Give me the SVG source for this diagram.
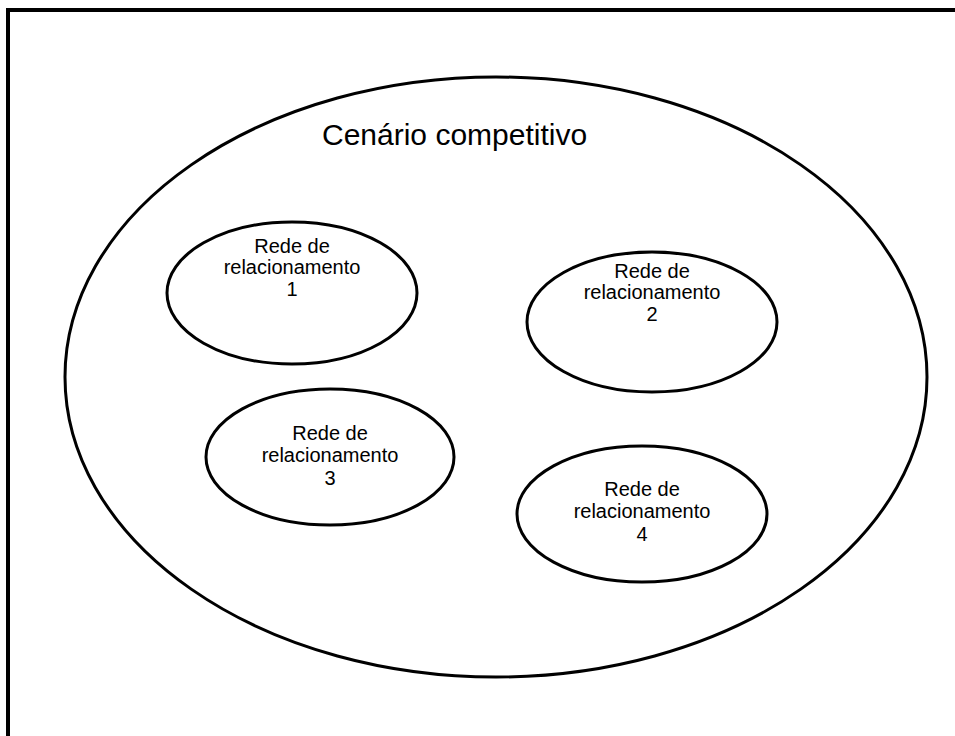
<svg xmlns="http://www.w3.org/2000/svg" width="955" height="736" viewBox="0 0 955 736">
<style>
.e{fill:none;stroke:#000;stroke-width:3}
.t{font-family:"Liberation Sans",Arial,sans-serif;font-size:20px;fill:#000;text-anchor:middle}
.h{font-family:"Liberation Sans",Arial,sans-serif;font-size:30px;fill:#000}
</style>
<rect width="955" height="736" fill="#fff"/>
<path d="M8,736 V10 H955" fill="none" stroke="#000" stroke-width="4"/>
<g id="cenario">
<ellipse class="e" cx="496" cy="377" rx="431" ry="300"/>
<text class="h" x="322" y="145">Cenário competitivo</text>
</g>
<g id="rede1">
<ellipse class="e" cx="292" cy="293" rx="125" ry="71"/>
<text class="t" x="292" y="253">Rede de</text>
<text class="t" x="292" y="274">relacionamento</text>
<text class="t" x="292" y="296">1</text>
</g>
<g id="rede2">
<ellipse class="e" cx="652" cy="322" rx="125" ry="70"/>
<text class="t" x="652" y="278">Rede de</text>
<text class="t" x="652" y="299">relacionamento</text>
<text class="t" x="652" y="321">2</text>
</g>
<g id="rede3">
<ellipse class="e" cx="330" cy="457" rx="124" ry="68"/>
<text class="t" x="330" y="440">Rede de</text>
<text class="t" x="330" y="462">relacionamento</text>
<text class="t" x="330" y="485">3</text>
</g>
<g id="rede4">
<ellipse class="e" cx="642" cy="514" rx="125" ry="68"/>
<text class="t" x="642" y="496">Rede de</text>
<text class="t" x="642" y="518">relacionamento</text>
<text class="t" x="642" y="541">4</text>
</g>
<g id="connectors"/>
</svg>
